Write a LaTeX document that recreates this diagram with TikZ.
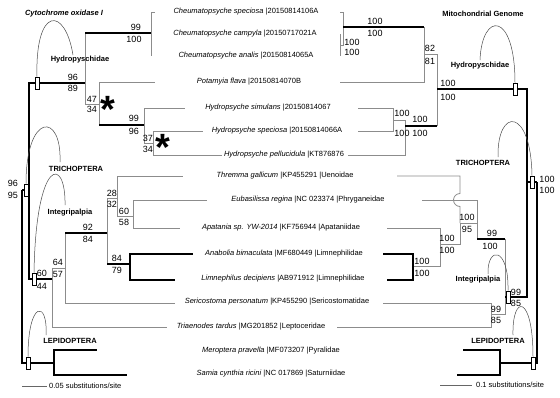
\documentclass[tikz,border=0pt]{standalone}
\usepackage{fontspec}
\setmainfont{Liberation Sans}
\begin{document}
\begin{tikzpicture}[x=1pt,y=-1pt,
 thn/.style={draw=black!45, line width=0.8pt},
 thk/.style={draw=black, line width=2.2pt},
 sv/.style={font=\fontsize{9}{9}\selectfont, inner sep=0pt},
 tiplab/.style={font=\fontsize{7.5}{7.5}\selectfont, inner sep=0pt},
 clade/.style={font=\fontsize{7.5}{7.5}\selectfont\bfseries, inner sep=0pt},
 cmark/.style={draw=black, fill=white, line width=0.6pt, minimum width=4pt, minimum height=12pt, inner sep=0pt},
 arcl/.style={draw=black!70, line width=0.5pt},
 astx/.style={font=\fontsize{38}{38}\selectfont\bfseries, inner sep=0pt, anchor=base},
 sbar/.style={draw=black!60, line width=0.8pt},
]
\useasboundingbox[fill=white] (0,0) rectangle (560,397);

% ---------------- left tree coordinates ----------------
\coordinate (LR) at (22,190);
\coordinate (LTri) at (29,190);
\coordinate (LLep) at (54,363);
\coordinate (LHyd) at (85,83);
\coordinate (LInt) at (52,279);
\coordinate (LCh) at (151,33);
\coordinate (LA1) at (99,104);
\coordinate (LHy) at (144,125);
\coordinate (LHy2) at (153,143);
\coordinate (LB) at (65,268);
\coordinate (LC) at (107,233);
\coordinate (LD) at (117,198);
\coordinate (LF) at (133,216);
\coordinate (LE) at (130,264);
\coordinate (t1L) at (155,12);
\coordinate (t2L) at (151,34);
\coordinate (t3L) at (151,56);
\coordinate (t4L) at (155,82);
\coordinate (t5L) at (185,108);
\coordinate (t6L) at (203,131);
\coordinate (t7L) at (222,155);
\coordinate (t8L) at (183,176);
\coordinate (t9L) at (207,200);
\coordinate (t10L) at (180,228);
\coordinate (t11L) at (193,254);
\coordinate (t12L) at (175,280);
\coordinate (t13L) at (175,303);
\coordinate (t14L) at (167,327);
\coordinate (t15L) at (97,350);
\coordinate (t16L) at (127,375);

% ---------------- right tree coordinates ----------------
\coordinate (RR) at (537,182);
\coordinate (RTri) at (527,182);
\coordinate (RLep) at (500,363);
\coordinate (RHyd) at (437,89);
\coordinate (RInt) at (505,297);
\coordinate (RA) at (424,54);
\coordinate (RN) at (405,126);
\coordinate (RCh) at (343,27);
\coordinate (RP) at (340,45);
\coordinate (RM) at (393,120);
\coordinate (RJ) at (477,239);
\coordinate (RH) at (491,314);
\coordinate (RK) at (460,223);
\coordinate (RL) at (440,244);
\coordinate (RE) at (413,266);
\coordinate (t1R) at (340,12);
\coordinate (t2R) at (340,34);
\coordinate (t3R) at (340,56);
\coordinate (t4R) at (340,82);
\coordinate (t5R) at (358,108);
\coordinate (t6R) at (358,131);
\coordinate (t7R) at (348,155);
\coordinate (t8R) at (397,176);
\coordinate (t9R) at (422,200);
\coordinate (t10R) at (387,228);
\coordinate (t11R) at (383,254);
\coordinate (t12R) at (387,280);
\coordinate (t13R) at (383,303);
\coordinate (t14R) at (337,327);
\coordinate (t15R) at (463,350);
\coordinate (t16R) at (457,375);

% ---------------- left tree branches ----------------
\draw[thn] (LHyd) -- (LHyd |- LCh);
\draw[thn] (LHyd) |- (LA1);
\draw[thn] (LCh) |- (t1L); \draw[thn] (LCh) |- (t2L); \draw[thn] (LCh) |- (t3L);
\draw[thn] (LA1) |- (t4L);
\draw[thn] (LA1) -- (LA1 |- LHy);
\draw[thn] (LHy) |- (t5L); \draw[thn] (LHy) |- (LHy2);
\draw[thn] (LHy2) |- (t6L); \draw[thn] (LHy2) |- (t7L);
\draw[thn] (LInt) |- (LB); \draw[thn] (LInt) |- (t14L);
\draw[thn] (LB) -- (LB |- LC);
\draw[thn] (LB) |- (t13L);
\draw[thn] (LC) |- (LD); \draw[thn] (LC) -- (LC |- LE);
\draw[thn] (LD) |- (t8L); \draw[thn] (LD) |- (LF);
\draw[thn] (LF) |- (t9L); \draw[thn] (LF) |- (t10L);
\draw[thk] (LHyd |- LCh) -- (LCh);
\draw[thk] (LA1 |- LHy) -- (LHy);
\draw[thk] (LB |- LC) -- (LC);
\draw[thk] (LC |- LE) -- (LE);
\draw[thk] (LE) |- (t11L); \draw[thk] (LE) |- (t12L);
\draw[thk] (LR) -- (LTri);
\draw[thk] (LR) |- (LLep);
\draw[thk] (LTri) |- (LHyd);
\draw[thk] (LTri) |- (LInt);
\draw[thk] (LLep) |- (t15L); \draw[thk] (LLep) |- (t16L);

% ---------------- right tree branches ----------------
\draw[thn] (RHyd) |- (RA);
\draw[thn] (RHyd) -- (RHyd |- RN);
\draw[thn] (RA) -- (RA |- RCh);
\draw[thn] (RA) |- (t4R);
\draw[thn] (RCh) |- (t1R); \draw[thn] (RCh) |- (RP);
\draw[thn] (RP) |- (t2R); \draw[thn] (RP) |- (t3R);
\draw[thn] (RN) |- (RM); \draw[thn] (RN) |- (t7R);
\draw[thn] (RM) |- (t5R); \draw[thn] (RM) |- (t6R);
\draw[thn] (RInt) -- (RInt |- RJ);
\draw[thn] (RInt) |- (RH);
\draw[thn] (RH) |- (t13R); \draw[thn] (RH) |- (t14R);
\draw[thn] (RJ) |- (t9R); \draw[thn] (RJ) |- (RK);
\draw[thn] (RK) -- ++(0,-16.5) arc[start angle=270, end angle=90, radius=6.5pt] |- (t8R);
\draw[thn] (RK) |- (RL);
\draw[thn] (RL) |- (t10R); \draw[thn] (RL) |- (RE);
\draw[thk] (RHyd |- RN) -- (RN);
\draw[thk] (RA |- RCh) -- (RCh);
\draw[thk] (RInt |- RJ) -- (RJ);
\draw[thk] (RE) |- (t11R); \draw[thk] (RE) |- (t12R);
\draw[thk] (RR) -- (RTri);
\draw[thk] (RR) |- (RLep);
\draw[thk] (RTri) |- (RHyd);
\draw[thk] (RTri) |- (RInt);
\draw[thk] (RLep) |- (t15R); \draw[thk] (RLep) |- (t16R);

% ---------------- tip labels ----------------
\node[tiplab] (n1) at (246,12) {\textit{Cheumatopsyche speciosa} |20150814106A};
\node[tiplab] (n2) at (245,34) {\textit{Cheumatopsyche campyla} |20150717021A};
\node[tiplab] (n3) at (246,56) {\textit{Cheumatopsyche analis} |20150814065A};
\node[tiplab] (n4) at (249,82) {\textit{Potamyia flava} |20150814070B};
\node[tiplab] (n5) at (268,108) {\textit{Hydropsyche simulans} |20150814067};
\node[tiplab] (n6) at (277,131) {\textit{Hydropsyche speciosa} |20150814066A};
\node[tiplab] (n7) at (284,155) {\textit{Hydropsyche pellucidula} |KT876876};
\node[tiplab] (n8) at (285,176) {\textit{Thremma gallicum} |KP455291 |Uenoidae};
\node[tiplab] (n9) at (308,200) {\textit{Eubasilissa regina} |NC 023374 |Phryganeidae};
\node[tiplab] (n10) at (281,228) {\textit{Apatania sp. YW-2014} |KF756944 |Apataniidae};
\node[tiplab] (n11) at (284,254) {\textit{Anabolia bimaculata} |MF680449 |Limnephilidae};
\node[tiplab] (n12) at (283,279) {\textit{Limnephilus decipiens} |AB971912 |Limnephilidae};
\node[tiplab] (n13) at (277,302) {\textit{Sericostoma personatum} |KP455290 |Sericostomatidae};
\node[tiplab] (n14) at (251,327) {\textit{Triaenodes tardus} |MG201852 |Leptoceridae};
\node[tiplab] (n15) at (271,351) {\textit{Meroptera pravella} |MF073207 |Pyralidae};
\node[tiplab] (n16) at (271,374) {\textit{Samia cynthia ricini} |NC 017869 |Saturniidae};

% ---------------- support values ----------------
\foreach \x/\y/\t [count=\i] in {136/27/99, 134/39/100, 73/77/96, 73/88/89, 92/99/47, 92/109/34,
  134/118/99, 134/131/96, 148/138/37, 148/149/34, 13/183/96, 13/195/95, 112/193/28, 112/204/32,
  124/211/60, 124/222/58, 88/227/92, 88/239/84, 117/258/84, 117/270/79, 58/262/64, 58/274/57,
  42/273/60, 42/286/44}
  \node[sv] (vL\i) at (\x,\y) {\t};
\foreach \x/\y/\t [count=\i] in {375/21/100, 375/33/100, 352/42/100, 352/52/100, 430/48/82, 430/61/81,
  448/83/100, 448/97/100, 402/113/100, 402/133/100, 420/119/100, 420/133/100, 547/179/100, 547/190/100,
  467/217/100, 467/229/95, 492/233/99, 490/246/100, 447/238/100, 447/250/100, 422/261/100, 422/273/100,
  516/292/99, 516/303/85, 496/309/99, 496/320/85}
  \node[sv] (vR\i) at (\x,\y) {\t};

% ---------------- stars ----------------
\node[astx] (s1) at (107.5,122) {*};
\node[astx] (s2) at (162.5,160) {*};

% ---------------- clade markers, labels, arcs ----------------
\node[cmark] (mLH) at (37,83) {};
\node[cmark] (mLT) at (26,190) {};
\node[cmark] (mLI) at (34,279) {};
\node[cmark] (mLL) at (28,363) {};
\node[cmark] (mRH) at (515,89) {};
\node[cmark] (mRT) at (532,182) {};
\node[cmark] (mRI) at (508,297) {};
\node[cmark] (mRL) at (533,363) {};

\node[clade] (cLH) at (80,60) {Hydropyschidae};
\node[clade] (cLT) at (76,169) {TRICHOPTERA};
\node[clade] (cLI) at (70,213) {Integripalpia};
\node[clade] (cLL) at (70,341) {LEPIDOPTERA};
\node[clade] (cRH) at (480,66) {Hydropyschidae};
\node[clade] (cRT) at (483,163) {TRICHOPTERA};
\node[clade] (cRI) at (478,280) {Integripalpia};
\node[clade] (cRL) at (498,341) {LEPIDOPTERA};

\coordinate (aLH) at (73,55);
\coordinate (aLT) at (60,162);
\coordinate (aLI) at (65,205);
\coordinate (aLL) at (46,335);
\coordinate (aRH) at (480,60);
\coordinate (aRT) at (498,157);
\coordinate (aRI) at (488,274);
\coordinate (aRL) at (513,335);
\draw[arcl] (mLH.north) .. controls (35,6) and (65,6) .. (aLH);
\draw[arcl] (mLT.north) .. controls (26,112) and (62,112) .. (aLT);
\draw[arcl] (mLI.north) .. controls (36,156) and (66,156) .. (aLI);
\draw[arcl] (mLL.north) .. controls (28,300) and (48,300) .. (aLL);
\draw[arcl] (aRH) .. controls (482,11) and (515,11) .. (mRH.north);
\draw[arcl] (aRT) .. controls (497,107) and (531,107) .. (mRT.north);
\draw[arcl] (aRI) .. controls (487,246) and (509,246) .. (mRI.north);
\draw[arcl] (aRL) .. controls (512,294) and (533,294) .. (mRL.north);

% ---------------- titles ----------------
\node[clade, font=\fontsize{7.5}{7.5}\selectfont\bfseries\itshape] (ttlL) at (64,14) {Cytochrome oxidase I};
\node[clade] (ttlR) at (483,14) {Mitochondrial Genome};

% ---------------- scale bars ----------------
\coordinate (sbL1) at (22,386); \coordinate (sbL2) at (47,386);
\draw[sbar] (sbL1) -- (sbL2);
\node[tiplab, anchor=west] (sbLt) at (49,386) {0.05 substitutions/site};
\coordinate (sbR1) at (440,385); \coordinate (sbR2) at (472,385);
\draw[sbar] (sbR1) -- (sbR2);
\node[tiplab, anchor=west] (sbRt) at (476,385) {0.1 substitutions/site};
\end{tikzpicture}
\end{document}
